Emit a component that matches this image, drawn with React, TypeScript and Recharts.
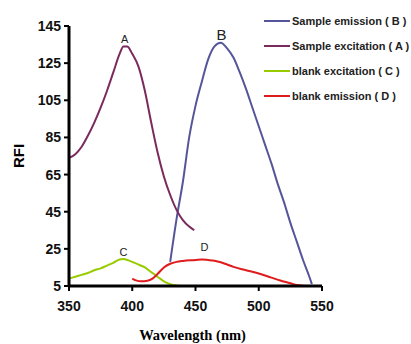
import { LineChart, Line, XAxis, YAxis, Legend, ReferenceDot } from 'recharts'

// ── data ─────────────────────────────────────────────────────────────────────
const emissionBWl  = [430, 435, 440, 445, 450, 455, 460, 465, 470, 475, 480, 485, 490, 495, 500, 505, 510, 515, 520, 525, 530, 535, 540, 542]
const emissionBVal = [18, 41, 61, 85, 102, 115, 127, 134, 136, 133, 128, 120, 111, 101, 91, 81, 71, 60, 50, 39, 29, 19, 10, 6]

const excitationAWl  = [350, 355, 360, 365, 370, 375, 380, 385, 390, 393, 396, 400, 405, 410, 415, 420, 425, 430, 435, 440, 445, 449]
const excitationAVal = [74, 76, 80, 86, 93, 101, 110, 120, 130, 134, 134, 130, 123, 110, 93, 77, 64, 54, 46, 40.5, 37, 35]

const blankExcWl  = [350, 355, 360, 365, 370, 375, 380, 385, 390, 393, 397, 400, 405, 410, 415, 420, 425, 430, 435, 440, 445, 450]
const blankExcVal = [9, 10, 11, 12, 13.5, 14.5, 16, 17.5, 19.3, 19.5, 18.8, 18, 16.5, 15, 12.5, 10, 7.5, 6, 5.3, 5, 5, 5]

const blankEmWl  = [400, 403, 407, 412, 416, 420, 425, 430, 435, 440, 450, 455, 460, 465, 470, 475, 480, 490, 500, 510, 517, 525, 530, 540, 550]
const blankEmVal = [9, 8, 7.5, 7.8, 9, 11.5, 15, 17, 18, 18.5, 19, 19.3, 19, 18.6, 17.8, 16.6, 15.3, 13.5, 11.7, 9.5, 8, 6.5, 5.5, 5, 5]

const xTicks = [350, 400, 450, 500, 550]
const yTicks = [5, 25, 45, 65, 85, 105, 125, 145]

const toPoints = (wl: number[], val: number[]) => wl.map((w, i) => ({ wl: w, v: val[i] }))

const series = [
  { name: 'Sample emission ( B )',   color: '#55559a', data: toPoints(emissionBWl, emissionBVal) },
  { name: 'Sample excitation ( A )', color: '#7a2a5c', data: toPoints(excitationAWl, excitationAVal) },
  { name: 'blank excitation ( C )',  color: '#99cc00', data: toPoints(blankExcWl, blankExcVal) },
  { name: 'blank emission ( D )',    color: '#e01b1b', data: toPoints(blankEmWl, blankEmVal) },
]
const seriesOrder = series.map((s) => s.name)

// curve tags: letter, x, y, size, offset
const tags = [
  { text: 'A', x: 394, y: 134.4, size: 11, offset: 3 },
  { text: 'B', x: 470.5, y: 136, size: 15, offset: 3 },
  { text: 'C', x: 393, y: 19.5, size: 11, offset: 3 },
  { text: 'D', x: 457, y: 19.3, size: 11, offset: 8 },
]

const sans = 'Arial, "Liberation Sans", sans-serif'

interface LegendEntry {
  value: string
  color: string
}

interface Box {
  x: number
  y: number
  width: number
  height: number
}

function LegendBox({ payload }: { payload?: LegendEntry[] }) {
  if (!payload) return null
  const items = [...payload].sort((a, b) => seriesOrder.indexOf(a.value) - seriesOrder.indexOf(b.value))
  return (
    <div style={{ fontFamily: sans }}>
      {items.map((p) => (
        <div key={p.value} style={{ height: 25, display: 'flex', alignItems: 'center' }}>
          <svg width={29} height={4} style={{ flexShrink: 0 }}>
            <line x1={1} y1={2} x2={27} y2={2} stroke={p.color} strokeWidth={2} />
          </svg>
          <span style={{ fontSize: 11, fontWeight: 700, color: '#222', whiteSpace: 'nowrap' }}>{p.value}</span>
        </div>
      ))}
    </div>
  )
}

function YLabel({ viewBox }: { viewBox?: Box }) {
  if (!viewBox) return null
  const cx = viewBox.x + 18
  const cy = viewBox.y + viewBox.height / 2
  return (
    <text
      x={cx}
      y={cy}
      transform={`rotate(-90 ${cx} ${cy})`}
      textAnchor="middle"
      dominantBaseline="central"
      fontFamily={sans}
      fontSize={15}
      fontWeight={700}
      fill="#000"
    >
      RFI
    </text>
  )
}

function XLabel({ viewBox }: { viewBox?: Box }) {
  if (!viewBox) return null
  return (
    <text
      x={viewBox.x + viewBox.width / 2 - 3}
      y={viewBox.y + viewBox.height - 4}
      textAnchor="middle"
      style={{ fontFamily: 'Liberation Serif, serif', fontSize: 14.5, fontWeight: 700, fill: '#000' }}
    >
      Wavelength (nm)
    </text>
  )
}

export default function App() {
  return (
    <div style={{ width: 411, height: 344, background: '#fff' }}>
      <style>{'body{margin:0}'}</style>
      <LineChart width={411} height={344} margin={{ top: 26, right: 89, bottom: 0, left: 0 }}>
        <XAxis
          dataKey="wl"
          type="number"
          domain={[350, 550]}
          ticks={xTicks}
          allowDuplicatedCategory={false}
          height={58}
          axisLine={{ stroke: '#000', strokeWidth: 3 }}
          tickLine={{ stroke: '#000', strokeWidth: 2 }}
          tickSize={5}
          tickMargin={10}
          tick={{ fontSize: 14, fontWeight: 700, fill: '#111', fontFamily: sans }}
          label={<XLabel />}
        />
        <YAxis
          type="number"
          domain={[5, 145]}
          ticks={yTicks}
          width={69}
          axisLine={{ stroke: '#000', strokeWidth: 3 }}
          tickLine={{ stroke: '#000', strokeWidth: 2 }}
          tickSize={5}
          tickMargin={3}
          tick={{ fontSize: 14, fontWeight: 700, fill: '#111', fontFamily: sans }}
          label={<YLabel />}
        />
        <Legend
          layout="vertical"
          verticalAlign="middle"
          align="center"
          content={<LegendBox />}
          wrapperStyle={{ position: 'absolute', top: 8, left: 263, width: 150 }}
        />
        {series.map((s) => (
          <Line
            key={s.name}
            name={s.name}
            data={s.data}
            dataKey="v"
            type="monotone"
            stroke={s.color}
            strokeWidth={2}
            dot={false}
            isAnimationActive={false}
          />
        ))}
        {tags.map((t) => (
          <ReferenceDot
            key={t.text}
            x={t.x}
            y={t.y}
            r={0}
            stroke="none"
            label={{
              value: t.text,
              position: 'top',
              offset: t.offset,
              fontSize: t.size,
              fill: '#222',
              fontFamily: sans,
            }}
          />
        ))}
      </LineChart>
    </div>
  )
}
